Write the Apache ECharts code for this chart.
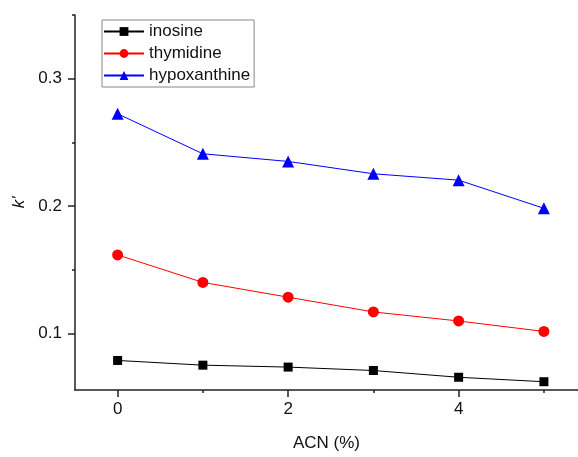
<!DOCTYPE html>
<html><head><meta charset="utf-8">
<script src="https://cdn.jsdelivr.net/npm/echarts@6/dist/echarts.min.js"></script>
<style>html,body{margin:0;padding:0;background:#fff}#c{width:578px;height:457px}</style>
</head><body><div id="c"></div>
<script>
var acn = [0, 1, 2, 3, 4, 5];
var inosine = [0.0787, 0.0750, 0.0735, 0.0708, 0.0655, 0.0620];
var thymidine = [0.1616, 0.1400, 0.1284, 0.1168, 0.1097, 0.1015];
var hypoxanthine = [0.2724, 0.2410, 0.2350, 0.2253, 0.2203, 0.1982];
var xMajor = [0, 2, 4];
var xMinor = [1, 3, 5];
var yMajor = [0.1, 0.2, 0.3];
var yMinor = [0.15, 0.25, 0.35];

function pairs(ys){ return acn.map(function(x,i){return [x, ys[i]];}); }
var font = 'Liberation Sans, Arial, sans-serif';
var chart = echarts.init(document.getElementById('c'));
var axisLine = {show:true, onZero:false, lineStyle:{color:'#222', width:1.5}};
chart.setOption({
  animation:false,
  backgroundColor:'#fff',
  grid:{left:75, right:0, top:15, bottom:62},
  legend:{
    orient:'vertical', left:102, top:20,
    borderColor:'#888', borderWidth:1, padding:[3,4,3,1],
    itemWidth:40, itemHeight:11, itemGap:5,
    textStyle:{fontFamily:font, fontSize:17, lineHeight:16, color:'#111'},
    data:['inosine','thymidine','hypoxanthine']
  },
  xAxis:[{
    type:'value', min:-0.5, max:5.4,
    name:'ACN (%)', nameLocation:'middle', nameGap:45,
    nameTextStyle:{fontFamily:font, fontSize:17, color:'#111'},
    axisLine:axisLine,
    axisTick:{show:true, inside:false, length:7, customValues:xMajor, lineStyle:{color:'#222', width:1.5}},
    axisLabel:{customValues:xMajor, margin:11, fontFamily:font, fontSize:17, color:'#111'},
    splitLine:{show:false}
  },{
    type:'value', min:-0.5, max:5.4, position:'bottom',
    axisLine:{show:false, onZero:false},
    axisTick:{show:true, length:3, customValues:xMinor, lineStyle:{color:'#222', width:1.5}},
    axisLabel:{show:false},
    splitLine:{show:false}
  }],
  yAxis:[{
    type:'value', min:0.0555, max:0.35,
    name:"k'", nameLocation:'middle', nameGap:46, nameRotate:90,
    nameTextStyle:{fontFamily:font, fontSize:17, fontStyle:'italic', color:'#111'},
    axisLine:axisLine,
    axisTick:{show:true, length:7, customValues:yMajor, lineStyle:{color:'#222', width:1.5}},
    axisLabel:{customValues:yMajor, margin:13, fontFamily:font, fontSize:17, color:'#111',
      formatter:function(v){return v.toFixed(1);}},
    splitLine:{show:false}
  },{
    type:'value', min:0.0555, max:0.35, position:'left',
    axisLine:{show:false, onZero:false},
    axisTick:{show:true, length:3, customValues:yMinor, lineStyle:{color:'#222', width:1.5}},
    axisLabel:{show:false},
    splitLine:{show:false}
  }],
  series:[
    {name:'inosine', type:'line', data:pairs(inosine), symbol:'rect', symbolSize:9,
      itemStyle:{color:'#000'}, lineStyle:{color:'#000', width:1}},
    {name:'thymidine', type:'line', data:pairs(thymidine), symbol:'circle', symbolSize:11,
      itemStyle:{color:'#ff0000'}, lineStyle:{color:'#ff0000', width:1}},
    {name:'hypoxanthine', type:'line', data:pairs(hypoxanthine), symbol:'triangle', symbolSize:12,
      itemStyle:{color:'#0000ff'}, lineStyle:{color:'#0000ff', width:1}}
  ]
});
</script></body></html>
